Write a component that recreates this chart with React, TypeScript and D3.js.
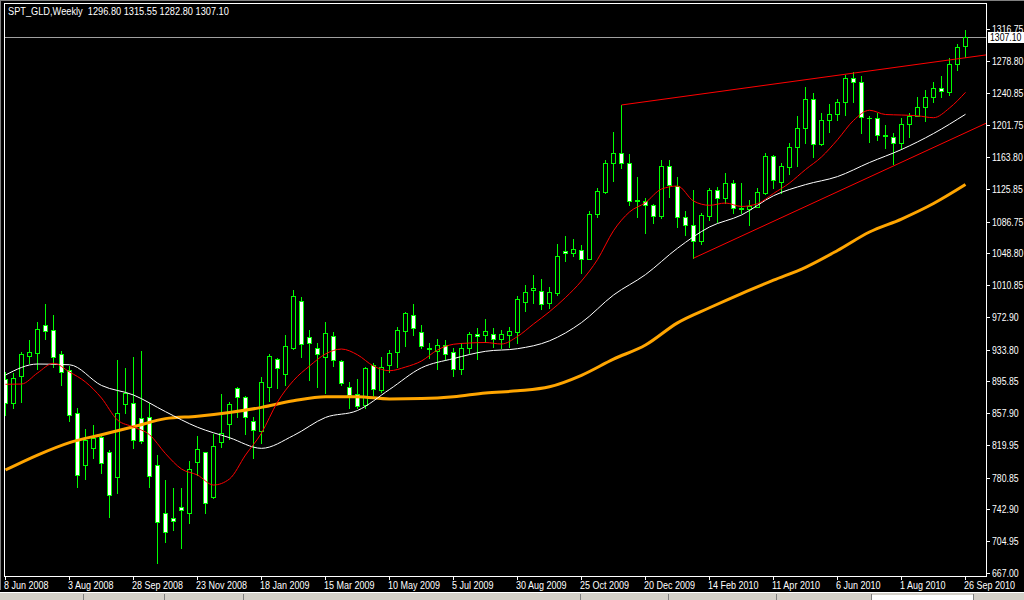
import React from 'react';
import * as d3 from 'd3';

const W = 1024;
const H = 600;

const symbolTitle = 'SPT_GLD,Weekly';
const lastBar = [1296.8, 1315.55, 1282.8, 1307.1];

const dateLabels = ['8 Jun 2008', '3 Aug 2008', '28 Sep 2008', '23 Nov 2008', '18 Jan 2009', '15 Mar 2009', '10 May 2009', '5 Jul 2009', '30 Aug 2009', '25 Oct 2009', '20 Dec 2009', '14 Feb 2010', '11 Apr 2010', '6 Jun 2010', '1 Aug 2010', '26 Sep 2010'];
const priceTicks = [1316.75, 1278.8, 1240.85, 1201.75, 1163.8, 1125.85, 1086.75, 1048.8, 1010.85, 972.9, 933.8, 895.85, 857.9, 819.95, 780.85, 742.9, 704.95, 667.0];

const opens = [
  898.4, 870.5, 902.8, 925.8, 929.4, 962.9, 956.9, 928.6, 909.5, 857.8,
  795.7, 816, 829.5, 812, 781.3, 868.5, 869.7, 851.8, 853, 795.7,
  738.4, 732.4, 745.5, 739.2, 800.1, 811.6, 758.3, 823.9, 844.6, 887.6,
  877, 848.2, 837.1, 888.8, 923.1, 904.4, 935.4, 992.3, 949.3, 936.2,
  924.7, 950.5, 920.7, 889.6, 881.3, 867.4, 915.5, 885.7, 915.5, 930.6,
  955.7, 974.8, 954.5, 934.2, 932.6, 939, 930.6, 910.3, 936.2, 952.5,
  950.9, 952.1, 946.1, 951.7, 954.5, 991.1, 1004.6, 1003.4, 989.9, 1001.1,
  1051.2, 1049.6, 1052.4, 1041.7, 1095.4, 1122.5, 1156.3, 1168.3, 1156.3, 1110.9,
  1111.7, 1106.2, 1093.8, 1152.7, 1129.6, 1092.6, 1082.3, 1063.9, 1093.8, 1124.5,
  1115.3, 1132.4, 1102.2, 1101.4, 1104.6, 1120.5, 1164.7, 1134.4, 1152.3, 1175.4,
  1198.1, 1232.8, 1179, 1208.1, 1214.8, 1229.2, 1257.8, 1253.1, 1210.1, 1210.1,
  1189, 1188.2, 1180.2, 1202.9, 1213.2, 1224, 1235.1, 1245.9, 1241.9, 1274.6,
  1296.8,
];
const highs = [
  907.5, 905.6, 931.4, 945.3, 967.2, 988, 975.2, 932.6, 914.3, 864.2,
  839, 843.8, 833.1, 814, 921.5, 911.5, 925.5, 932.6, 869.7, 808,
  778.2, 768.2, 768.2, 800.9, 830.7, 812, 833.1, 880.9, 871.7, 889.6,
  878.5, 853.8, 901.6, 928.6, 923.5, 951.3, 1005, 996.3, 957.3, 941.4,
  966.5, 955.3, 921.5, 895.6, 898.4, 912.7, 917.5, 924.7, 933.4, 961.3,
  978.4, 988.3, 963.3, 942.2, 946.2, 945.4, 936.2, 941.4, 955.3, 959.3,
  970, 959.3, 957.3, 960.5, 997.9, 1011, 1022.9, 1017.8, 1008.2, 1060,
  1069.5, 1066, 1058.8, 1099.4, 1127.3, 1160.3, 1193.3, 1226, 1167, 1140.4,
  1114.5, 1107.8, 1160.3, 1160.3, 1139.6, 1099.8, 1124.5, 1096.6, 1126.5, 1128.4,
  1144.4, 1136.4, 1132.4, 1112.5, 1126.5, 1169.1, 1166.3, 1156.3, 1180.2, 1212.8,
  1247.1, 1240.7, 1216, 1227.2, 1232.8, 1261.8, 1265, 1260.6, 1212.8, 1216,
  1202.1, 1192.1, 1210.1, 1216, 1235.1, 1243.9, 1253.9, 1260.6, 1281.7, 1298.8,
  1315.55,
];
const lows = [
  855.8, 864.5, 871.7, 917.5, 910.3, 946.1, 913.5, 892, 849, 770.2,
  779.4, 804, 786.2, 734.4, 762.3, 858.6, 816.8, 822, 770.2, 679.5,
  704.6, 718.5, 696.6, 727.2, 784.2, 738.4, 756.3, 818, 826.7, 853.8,
  833.5, 804, 822, 872.9, 887.6, 891.6, 934.2, 925.5, 897.6, 888.8,
  881.7, 914.3, 891.6, 863.8, 863.8, 863.8, 879.7, 883.7, 907.6, 913.5,
  938.2, 951.3, 935.4, 924.3, 910.7, 921.5, 902.8, 904.8, 929.4, 922.7,
  943.4, 937.4, 935.4, 936.6, 941.3, 980.4, 989.1, 982, 983.1, 999.1,
  1040.1, 1046, 1024.9, 1041.7, 1092.6, 1120.5, 1135.6, 1150.3, 1106.6, 1092.6,
  1072.7, 1084.7, 1090.6, 1116.5, 1079.9, 1070.7, 1043, 1060, 1088.6, 1086.6,
  1108.5, 1096.6, 1096.6, 1082.7, 1103.8, 1119.7, 1126.5, 1121.3, 1143.6, 1153.1,
  1181, 1163.5, 1178.2, 1194.1, 1208.1, 1214, 1230, 1192.1, 1182.2, 1184.2,
  1174.2, 1155.5, 1173, 1188.2, 1212.8, 1207.3, 1230, 1235.1, 1237.9, 1267.8,
  1282.8,
];
const closes = [
  869.7, 899.6, 928.6, 931, 958.1, 956.1, 925, 906.7, 855.4, 784.2,
  825.9, 827.9, 798.1, 759.8, 857.8, 881.7, 825.5, 825.2, 783.4, 727.7,
  716.5, 728.8, 742, 790.9, 814.8, 750.3, 818.8, 833.9, 868.9, 876.9,
  853, 838.3, 894.8, 925.9, 911.5, 937.8, 997.5, 940.2, 941.4, 928.6,
  954.1, 921.5, 893.6, 879.7, 866.2, 911.5, 886.4, 912.7, 929.4, 956.9,
  977.2, 959.3, 938.2, 935.8, 939, 928.2, 911.1, 936.2, 952.1, 949.7,
  955.7, 946.2, 952.1, 955.7, 994.3, 1002.3, 1007.4, 987.9, 1002.6, 1045.2,
  1048.8, 1053.6, 1041.7, 1095.4, 1123.3, 1156.3, 1168.3, 1156.3, 1111.3, 1112.5,
  1106.6, 1093.8, 1152.7, 1130.4, 1092.6, 1082.3, 1063.9, 1094.2, 1124.5, 1115.3,
  1132.4, 1102.6, 1103, 1105.4, 1121.7, 1164.7, 1136.4, 1153.1, 1175.4, 1198.1,
  1232.8, 1179, 1208.1, 1214.8, 1229.6, 1257.8, 1253.1, 1211.3, 1210.9, 1190.2,
  1189.8, 1180.2, 1202.9, 1213.2, 1224, 1235.1, 1245.9, 1242.7, 1275, 1294.9,
  1307.1,
];

// moving averages: red every 2 weeks, white and orange every 4 weeks
const maRedStep = 2;
const maRed = [
  892.4, 892.7, 905.9, 917.5, 907.1, 895.1, 876, 849.7, 841.4, 832.2,
  809.6, 791.2, 784, 772.1, 779.3, 807.9, 834.2, 871.2, 896.9, 914.2,
  928.6, 934.5, 927.6, 914.2, 908.6, 913, 920.2, 933.4, 940.2, 941.7,
  942.3, 940.5, 949.5, 964.4, 979.1, 996, 1015.8, 1041.4, 1075.8, 1098.2,
  1109.5, 1125.6, 1129.2, 1111.3, 1106.2, 1108.9, 1104.8, 1108.1, 1120.3, 1132.8,
  1148.9, 1163.9, 1184.5, 1207.5, 1219.7, 1214.6, 1214, 1213.1, 1210.8, 1222.4,
  1241.1,
];
const maWhiteStep = 4;
const maWhite = [
  903.5, 916.6, 915.7, 891, 879.6, 859.7, 841.1, 828.6, 815.9, 831.2,
  852.8, 861.1, 886.2, 912.1, 923.1, 931.8, 934.9, 944.3, 966.1, 999,
  1023.4, 1054.9, 1080.3, 1094.6, 1117.6, 1130.9, 1140.5, 1157.3, 1172.8, 1191.9,
  1214.9,
];
const maOrangeStep = 4;
const maOrange = [
  790, 807.9, 822.8, 832.2, 841.6, 851.4, 854.3, 858.8, 864.8, 872.7,
  877.6, 877.6, 874.8, 875.3, 877.5, 882.1, 884.6, 889.4, 903.1, 922.4,
  939.3, 965.8, 983.8, 1000.8, 1016.7, 1032.1, 1052.2, 1074.3, 1089.8, 1108.3,
  1131,
];

// trend lines (rays): two anchor points each, week index and price
const trendUpperWeeks = [77, 106];
const trendUpperPrices = [1226, 1264];
const trendLowerWeeks = [86, 111];
const trendLowerPrices = [1043, 1153];

const FONT = "'Liberation Sans', Arial, Helvetica, sans-serif";

function NText(props: { x: number; y: number; text: string; fill?: string; sx?: number }) {
  const { x, y, text, fill = '#ffffff', sx = 0.82 } = props;
  return (
    <text
      transform={`translate(${x},${y}) scale(${sx},1)`}
      fill={fill}
      fontSize={11}
      fontFamily={FONT}
      style={{ whiteSpace: 'pre' }}
    >
      {text}
    </text>
  );
}

export default function App() {
  const plotL = 4;
  const plotR = 986;
  const plotT = 3;
  const plotB = 576;
  const n = opens.length;

  const x = d3.scaleLinear().domain([0, n - 1]).range([5, 965]);
  const y = d3.scaleLinear().domain([667, 1316.75]).range([573, 29]);

  const line = d3
    .line<[number, number]>()
    .x((d) => d[0])
    .y((d) => d[1])
    .curve(d3.curveMonotoneX);

  const maPath = (vals: number[], step: number) =>
    line(vals.map((v, k) => [x(k * step) + 0.5, y(v)] as [number, number])) || '';

  const ray = (weeks: number[], prices: number[]) => {
    const slope = (prices[1] - prices[0]) / (weeks[1] - weeks[0]);
    const endWeek = x.invert(plotR);
    const endPrice = prices[0] + slope * (endWeek - weeks[0]);
    return { x1: x(weeks[0]) + 0.5, y1: y(prices[0]), x2: plotR, y2: y(endPrice) };
  };
  const up = ray(trendUpperWeeks, trendUpperPrices);
  const lo = ray(trendLowerWeeks, trendLowerPrices);

  const bars = opens.map((o, i) => ({ i, o, h: highs[i], l: lows[i], c: closes[i] }));

  const headerText = `${symbolTitle}  ${lastBar.map((v) => v.toFixed(2)).join(' ')}`;
  const lastClose = lastBar[3];
  const yLast = Math.round(y(lastClose));

  const statusSeps = [83, 164, 243, 580, 668, 776, 871, 973];

  return (
    <svg
      width={W}
      height={H}
      style={{ position: 'fixed', left: 0, top: 0, display: 'block', background: '#000' }}
    >
      <defs>
        <clipPath id="plotClip">
          <rect x={plotL + 1} y={plotT + 1} width={plotR - plotL - 1} height={plotB - plotT - 1} />
        </clipPath>
      </defs>
      <rect x={0} y={0} width={W} height={H} fill="#000" />
      {/* outer window border */}
      <line x1={0} y1={0.5} x2={W} y2={0.5} stroke="#808080" />
      <line x1={0.5} y1={0} x2={0.5} y2={590} stroke="#808080" />

      {/* plot frame */}
      <rect
        x={plotL + 0.5}
        y={plotT + 0.5}
        width={plotR - plotL}
        height={plotB - plotT}
        fill="none"
        stroke="#ffffff"
        shapeRendering="crispEdges"
      />

      <g clipPath="url(#plotClip)">
        {/* bid line */}
        <line
          x1={plotL}
          x2={plotR}
          y1={yLast + 0.5}
          y2={yLast + 0.5}
          stroke="#a0a0a0"
          shapeRendering="crispEdges"
        />

        {/* candles */}
        <g shapeRendering="crispEdges">
          {bars.map((b) => {
            const cx = Math.round(x(b.i));
            const yh = Math.round(y(b.h));
            const yl = Math.round(y(b.l));
            const top = Math.round(y(Math.max(b.o, b.c)));
            const bot = Math.round(y(Math.min(b.o, b.c)));
            const bull = b.c >= b.o;
            return (
              <g key={b.i}>
                <line x1={cx + 0.5} x2={cx + 0.5} y1={yh} y2={yl + 1} stroke="#00ff00" />
                {bot - top >= 1 ? (
                  <rect
                    x={cx - 1.5}
                    y={top + 0.5}
                    width={4}
                    height={bot - top}
                    fill={bull ? '#000000' : '#ffffff'}
                    stroke="#00ff00"
                  />
                ) : (
                  <line x1={cx - 2} x2={cx + 3} y1={top + 0.5} y2={top + 0.5} stroke="#00ff00" />
                )}
              </g>
            );
          })}
        </g>

        {/* moving averages */}
        <path d={maPath(maOrange, maOrangeStep)} fill="none" stroke="#ffa500" strokeWidth={3} />
        <path d={maPath(maWhite, maWhiteStep)} fill="none" stroke="#ffffff" strokeWidth={1} />
        <path d={maPath(maRed, maRedStep)} fill="none" stroke="#ff0000" strokeWidth={1} />

        {/* trend lines */}
        <line {...up} stroke="#ff0000" strokeWidth={1} />
        <line {...lo} stroke="#ff0000" strokeWidth={1} />
      </g>

      {/* header */}
      <NText x={8} y={15} text={headerText} sx={0.84} />

      {/* price axis */}
      <g>
        {priceTicks.map((p) => {
          const yy = Math.round(y(p));
          return (
            <g key={p}>
              <line x1={plotR} x2={plotR + 4} y1={yy + 0.5} y2={yy + 0.5} stroke="#ffffff" shapeRendering="crispEdges" />
              <NText x={992} y={yy + 4} text={p.toFixed(2)} sx={0.79} />
            </g>
          );
        })}
        <rect x={988} y={yLast - 5} width={W - 988} height={11} fill="#ffffff" />
        <NText x={990} y={yLast + 4} text={lastClose.toFixed(2)} fill="#000000" sx={0.79} />
      </g>

      {/* time axis */}
      <g>
        {dateLabels.map((lab, k) => {
          const xx = Math.round(x(k * 8));
          return (
            <g key={lab}>
              <line x1={xx + 0.5} x2={xx + 0.5} y1={plotB} y2={plotB + 4} stroke="#ffffff" shapeRendering="crispEdges" />
              <NText x={xx - 1} y={589} text={lab} sx={0.82} />
            </g>
          );
        })}
      </g>

      {/* status / tab bar */}
      <rect x={0} y={592} width={W} height={8} fill="#d4d0c8" />
      <line x1={0} x2={W} y1={592.5} y2={592.5} stroke="#ffffff" />
      <rect x={871} y={595} width={102} height={5} fill="#ffffff" />
      {statusSeps.map((s) => (
        <line key={s} x1={s + 0.5} x2={s + 0.5} y1={594} y2={600} stroke="#808080" />
      ))}
    </svg>
  );
}
